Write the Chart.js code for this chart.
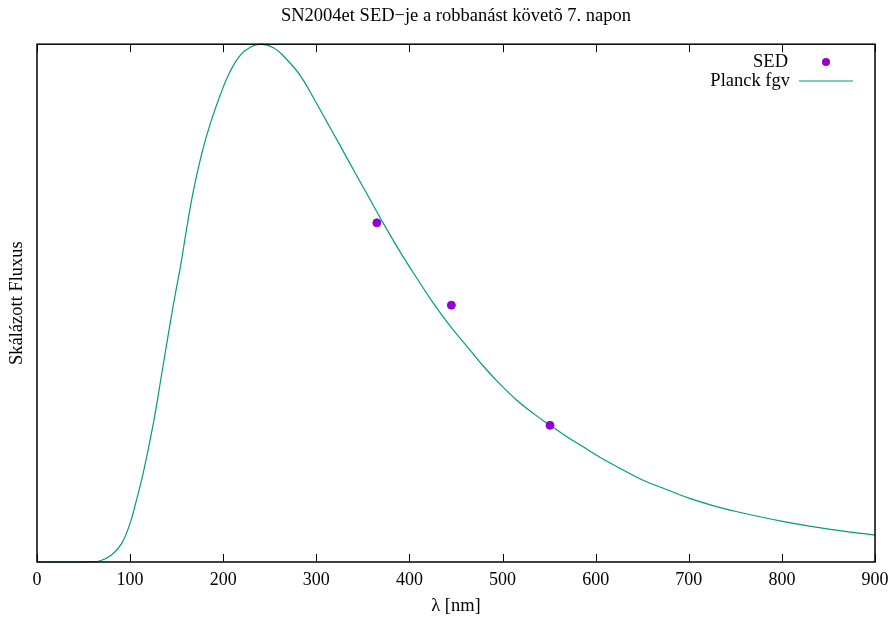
<!DOCTYPE html>
<html>
<head>
<meta charset="utf-8">
<script src="https://cdn.jsdelivr.net/npm/chart.js@4.4.0/dist/chart.umd.min.js"></script>
<style>
  html, body { margin: 0; padding: 0; background: #fff; }
  #wrap { width: 891px; height: 623px; }
</style>
</head>
<body>
<div id="wrap"><canvas id="sedChart" width="891" height="623"></canvas></div>
<script>
// Planck curve (lambda in nm, scaled flux)
const planckLambda = [0, 40, 57, 68, 80, 91, 100, 105, 114, 125, 134, 143, 149, 154, 161, 168, 177, 186, 197, 207, 218, 229, 240, 254, 268, 283, 297, 311, 325, 340, 354, 372, 390, 408, 426, 444, 462, 479, 497, 515, 533, 551, 569, 587, 605, 626, 651, 676, 701, 726, 752, 802, 852, 900];
const planckFlux = [0, 0, 0.0006, 0.0025, 0.0135, 0.036, 0.075, 0.107, 0.171, 0.268, 0.364, 0.461, 0.522, 0.570, 0.647, 0.717, 0.789, 0.846, 0.903, 0.946, 0.978, 0.994, 1.0, 0.993, 0.971, 0.939, 0.896, 0.851, 0.806, 0.757, 0.712, 0.654, 0.599, 0.548, 0.499, 0.455, 0.416, 0.379, 0.344, 0.313, 0.287, 0.264, 0.242, 0.222, 0.202, 0.181, 0.158, 0.140, 0.123, 0.109, 0.097, 0.078, 0.063, 0.052];

// measured SED points (U, B, V)
const sedLambda = [365, 445, 551];
const sedFlux = [0.655, 0.496, 0.264];

const xTicks = [0, 100, 200, 300, 400, 500, 600, 700, 800, 900];
const legendLabels = ['SED', 'Planck fgv'];

const serif = '"Liberation Serif", "DejaVu Serif", serif';
const green = '#009e73';
const purple = '#9400d3';

const framePlugin = {
  id: 'frame',
  afterDraw(chart) {
    const ctx = chart.ctx;
    const a = chart.chartArea;
    const xs = chart.scales.x;
    ctx.save();
    ctx.strokeStyle = '#000';
    ctx.lineWidth = 1;
    xTicks.forEach(t => {
      const px = Math.round(xs.getPixelForValue(t)) + 0.5;
      ctx.beginPath();
      ctx.moveTo(px, a.bottom);
      ctx.lineTo(px, a.bottom - 8);
      ctx.moveTo(px, a.top);
      ctx.lineTo(px, a.top + 8);
      ctx.stroke();
    });
    ctx.lineWidth = 1.5;
    ctx.strokeRect(a.left, a.top, a.right - a.left, a.bottom - a.top);

    // legend, gnuplot style: text right aligned, sample on the right
    ctx.font = '18.5px ' + serif;
    ctx.fillStyle = '#000';
    ctx.textAlign = 'right';
    ctx.textBaseline = 'middle';
    ctx.fillText(legendLabels[0], 788, 62);
    ctx.fillText(legendLabels[1], 790, 81);
    ctx.fillStyle = purple;
    ctx.beginPath();
    ctx.arc(826, 62, 4, 0, Math.PI * 2);
    ctx.fill();
    ctx.strokeStyle = green;
    ctx.lineWidth = 1.2;
    ctx.beginPath();
    ctx.moveTo(799, 81);
    ctx.lineTo(853, 81);
    ctx.stroke();
    ctx.restore();
  }
};

const ctx = document.getElementById('sedChart');
new Chart(ctx, {
  data: {
    datasets: [{
      type: 'scatter',
      label: legendLabels[0],
      data: sedLambda.map((l, i) => ({ x: l, y: sedFlux[i] })),
      backgroundColor: purple,
      borderColor: purple,
      pointRadius: 4,
      order: 0
    }, {
      type: 'line',
      label: legendLabels[1],
      data: planckLambda.map((l, i) => ({ x: l, y: planckFlux[i] })),
      borderColor: green,
      borderWidth: 1.2,
      pointRadius: 0,
      tension: 0.4,
      fill: false,
      clip: false,
      order: 1
    }]
  },
  options: {
    responsive: false,
    animation: false,
    layout: { padding: { left: 0, right: 16, top: 0, bottom: 0 } },
    plugins: {
      legend: { display: false },
      tooltip: { enabled: false },
      title: {
        display: true,
        fullSize: false,
        text: 'SN2004et SED\u2212je a robbanást követõ 7. napon',
        color: '#000',
        font: { family: serif, size: 18.5, weight: 'normal' },
        padding: { top: 5, bottom: 17 }
      }
    },
    scales: {
      x: {
        type: 'linear',
        min: 0,
        max: 900,
        afterBuildTicks: s => { s.ticks = xTicks.map(v => ({ value: v })); },
        grid: { display: false, drawTicks: false },
        border: { display: false },
        ticks: { color: '#000', padding: 7, font: { family: serif, size: 18 } },
        title: {
          display: true,
          text: 'λ [nm]',
          color: '#000',
          font: { family: serif, size: 18.5 },
          padding: { top: 0, bottom: 6 }
        },
        afterFit: s => { s.height = 61; s.paddingLeft = 0; s.paddingRight = 0; }
      },
      y: {
        type: 'linear',
        min: 0,
        max: 1,
        grid: { display: false, drawTicks: false },
        border: { display: false },
        ticks: { display: false },
        title: {
          display: true,
          text: 'Skálázott Fluxus',
          color: '#000',
          font: { family: serif, size: 18.5 },
          padding: { top: 6, bottom: 0 }
        },
        afterFit: s => { s.width = 37; }
      }
    }
  },
  plugins: [framePlugin]
});
</script>
</body>
</html>
